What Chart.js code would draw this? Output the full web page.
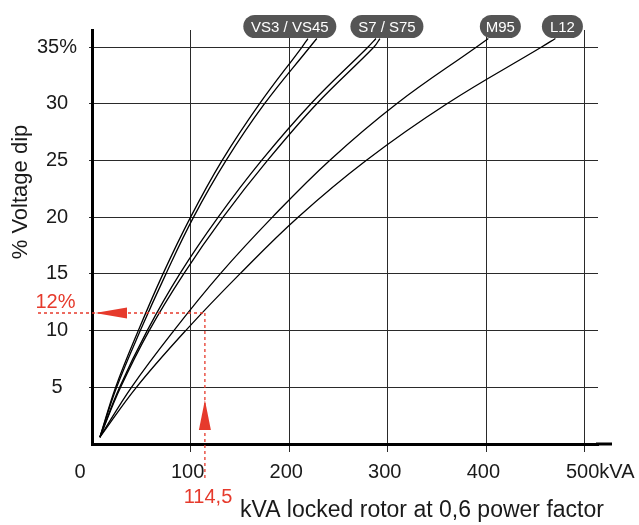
<!DOCTYPE html>
<html>
<head>
<meta charset="utf-8">
<script src="https://cdn.jsdelivr.net/npm/chart.js@4"></script>
<style>
  body { margin: 0; background: #fff; }
  canvas { display: block; }
</style>
</head>
<body>
<canvas id="dip" width="639" height="525"></canvas>
<script>
// % voltage dip levels where each curve was read
const dipLevels = [0.6, 5, 10, 15, 20, 25, 30, 35, 35.75];

// kVA locked rotor for each dip level
const vs3  = [8, 24, 47, 72, 100, 132, 170, 213, 219];
const vs45 = [8, 25, 49, 75, 103, 136, 175, 221, 228];
const s7   = [8, 28, 56, 89, 128, 172, 222, 280, 288];
const s75  = [8, 29, 58, 93, 133, 178, 228, 286, 292];
const m95  = [8, 40, 83, 130, 183, 241, 309, 390, 402];
const l12  = [8, 45, 95, 150, 209, 278, 360, 456, 470];

const tagNames = ['VS3 / VS45', 'S7 / S75', 'M95', 'L12'];
const xTicks = [0, 100, 200, 300, 400, 500];
const yTicks = [5, 10, 15, 20, 25, 30, 35];

// worked example
const exampleKva = 114.5;
const exampleDip = 11.55;
const exampleKvaText = '114,5';
const exampleDipText = '12%';

const RED = '#e63a2c';
const FONT = '"Liberation Sans", Arial, sans-serif';

function pts(kva) { return kva.map((k, i) => ({ x: k, y: dipLevels[i] })); }

function curve(kva) {
  return {
    data: pts(kva),
    borderColor: '#000',
    borderWidth: 1.3,
    pointRadius: 0,
    showLine: true,
    fill: false,
    tension: 0.4
  };
}

// tag pills sit over the end of one curve of each group
const tagAnchors = [
  { ds: 1, dx: -27, w: 93 },
  { ds: 3, dx: 7, w: 73 },
  { ds: 4, dx: 12, w: 41 },
  { ds: 5, dx: 7, w: 41 }
];

const decorations = {
  id: 'decorations',
  afterDatasetsDraw(chart) {
    const c = chart.ctx;
    const xs = chart.scales.x, ys = chart.scales.y;
    const area = chart.chartArea;
    c.save();

    // bottom axis runs past the grid
    c.strokeStyle = '#000';
    c.lineWidth = 3;
    c.beginPath();
    c.moveTo(area.right - 2, area.bottom);
    c.lineTo(area.right + 14, area.bottom);
    c.stroke();

    // tick labels
    c.fillStyle = '#1a1a1a';
    c.font = '20px ' + FONT;
    c.textBaseline = 'middle';
    c.textAlign = 'center';
    yTicks.forEach(v => {
      const t = v === 35 ? '35%' : String(v);
      c.fillText(t, 57, ys.getPixelForValue(v));
    });
    xTicks.forEach(v => {
      const px = xs.getPixelForValue(v);
      if (v === 0) { c.textAlign = 'center'; c.fillText('0', px - 12, 472); }
      else if (v === 500) { c.textAlign = 'left'; c.fillText('500kVA', px - 19, 472); }
      else { c.textAlign = 'center'; c.fillText(String(v), px - 3, 472); }
    });

    // axis titles
    c.font = '23px ' + FONT;
    c.textAlign = 'left';
    c.fillText('kVA locked rotor at 0,6 power factor', 240, 511);
    c.save();
    c.translate(21, 192);
    c.rotate(-Math.PI / 2);
    c.textAlign = 'center';
    c.font = '22px ' + FONT;
    c.fillText('% Voltage dip', 0, 0);
    c.restore();

    // red worked example
    const ex = xs.getPixelForValue(exampleKva);
    const ey = ys.getPixelForValue(exampleDip);
    c.strokeStyle = RED;
    c.lineWidth = 1.3;
    c.setLineDash([3, 3]);
    c.beginPath();
    c.moveTo(38, ey); c.lineTo(ex, ey);
    c.moveTo(ex, ey); c.lineTo(ex, 478);
    c.stroke();
    c.setLineDash([]);
    c.fillStyle = RED;
    c.beginPath();
    c.moveTo(area.left + 3, ey);
    c.lineTo(area.left + 35, ey - 5.5);
    c.lineTo(area.left + 35, ey + 5.5);
    c.closePath();
    c.fill();
    c.beginPath();
    c.moveTo(ex, 400);
    c.lineTo(ex - 6, 430);
    c.lineTo(ex + 6, 430);
    c.closePath();
    c.fill();
    c.font = '20px ' + FONT;
    c.textAlign = 'center';
    c.fillText(exampleDipText, 55.5, 302);
    c.fillText(exampleKvaText, 208, 497);

    // series tags
    c.font = '15px ' + FONT;
    tagAnchors.forEach((a, i) => {
      const d = chart.data.datasets[a.ds].data;
      const last = d[d.length - 1];
      const cx = xs.getPixelForValue(last.x) + a.dx;
      const cy = 26.5;
      c.fillStyle = '#555';
      c.beginPath();
      c.roundRect(cx - a.w / 2, cy - 11.5, a.w, 23, 11.5);
      c.fill();
      c.fillStyle = '#fff';
      c.fillText(tagNames[i], cx, cy + 1);
    });

    c.restore();
  }
};

new Chart(document.getElementById('dip'), {
  type: 'scatter',
  data: {
    datasets: [curve(vs3), curve(vs45), curve(s7), curve(s75), curve(m95), curve(l12)]
  },
  options: {
    responsive: false,
    animation: false,
    events: [],
    layout: { padding: { left: 89, right: 41, top: 30, bottom: 73 } },
    plugins: { legend: { display: false }, tooltip: { enabled: false } },
    scales: {
      x: {
        type: 'linear',
        min: 0,
        max: 513.2,
        afterBuildTicks: s => { s.ticks = xTicks.map(v => ({ value: v })); },
        ticks: { display: false },
        grid: {
          color: ctx => ctx.tick && ctx.tick.value === 0 ? 'rgba(0,0,0,0)' : '#2a2a2a',
          lineWidth: 1,
          tickLength: 8
        },
        border: { display: true, color: '#000', width: 3 }
      },
      y: {
        type: 'linear',
        min: 0,
        max: 36.5,
        afterBuildTicks: s => { s.ticks = [0].concat(yTicks).map(v => ({ value: v })); },
        ticks: { display: false },
        grid: {
          color: ctx => ctx.tick && ctx.tick.value === 0 ? 'rgba(0,0,0,0)' : '#2a2a2a',
          lineWidth: 1,
          tickLength: 3
        },
        border: { display: true, color: '#000', width: 3 }
      }
    }
  },
  plugins: [decorations]
});
</script>
</body>
</html>
